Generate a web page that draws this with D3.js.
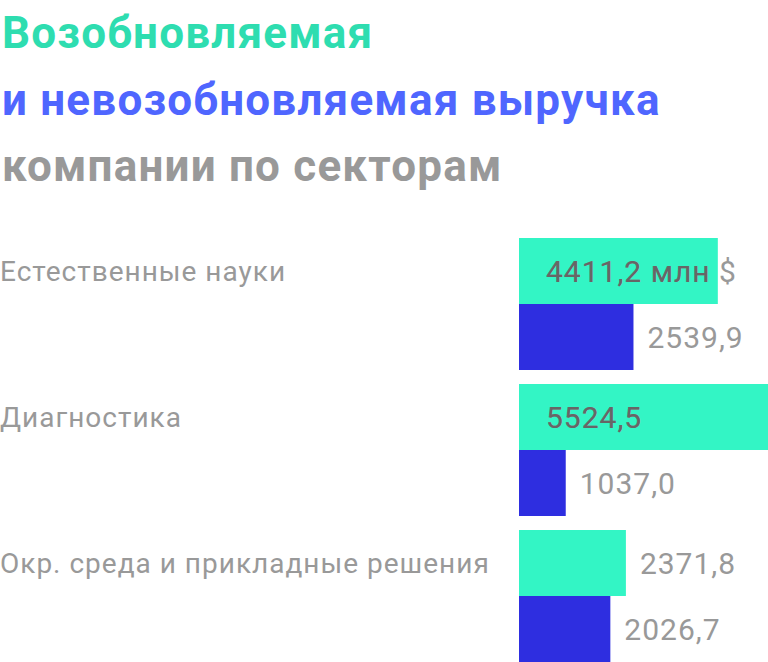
<!DOCTYPE html>
<html>
<head>
<meta charset="utf-8">
<script src="https://cdn.jsdelivr.net/npm/d3@7/dist/d3.min.js"></script>
<style>
  html, body { margin: 0; padding: 0; background: #fff; }
  svg { display: block; }
</style>
</head>
<body>
<svg id="chart" width="768" height="662"></svg>
<script>
const titleLines = ["Возобновляемая", "и невозобновляемая выручка", "компании по секторам"];
const categories = ["Естественные науки", "Диагностика", "Окр. среда и прикладные решения"];
const seriesNames = ["Возобновляемая", "Невозобновляемая"];
const renewable = [4411.2, 5524.5, 2371.8];
const nonRenewable = [2539.9, 1037.0, 2026.7];
const valueLabels = [["4411,2 млн $", "2539,9"], ["5524,5", "1037,0"], ["2371,8", "2026,7"]];

const titleColors = ["#2EDDB0", "#4F66FF", "#999999"];
const barColors = ["#33F5C5", "#2E2EE0"];

const svg = d3.select("#chart");
const W = 768, H = 662;
const x0 = 519;

svg.selectAll("text.title")
  .data(titleLines)
  .join("text")
  .attr("class", "title")
  .attr("x", 2)
  .attr("y", (d, i) => 48 + i * 66.5)
  .attr("fill", (d, i) => titleColors[i])
  .style("font-family", "Roboto, sans-serif")
  .style("font-weight", 700)
  .style("font-size", "44px")
  .style("letter-spacing", "1.2px")
  .text(d => d);

const groupY = d3.scaleBand().domain(categories).range([238, 676]).padding(0);
const inner = d3.scaleBand().domain(seriesNames).range([0, 132]);
const x = d3.scaleLinear().domain([0, 5524.5]).range([x0, W]);

const data = categories.map((c, i) => ({
  cat: c,
  vals: [
    { s: seriesNames[0], v: renewable[i], label: valueLabels[i][0] },
    { s: seriesNames[1], v: nonRenewable[i], label: valueLabels[i][1] }
  ]
}));

const g = svg.selectAll("g.group").data(data).join("g")
  .attr("class", "group")
  .attr("transform", d => `translate(0,${groupY(d.cat)})`);

g.append("text")
  .attr("x", 0)
  .attr("y", inner.bandwidth() / 2)
  .attr("dy", "0.36em")
  .attr("fill", "#999")
  .style("font-family", "Roboto, sans-serif")
  .style("font-size", "28px")
  .style("letter-spacing", "1px")
  .text(d => d.cat);

const defs = svg.append("defs");

g.each(function(d, gi) {
  const gg = d3.select(this);
  d.vals.forEach((v, si) => {
    const by = inner(v.s);
    const bw = x(v.v) - x0;
    gg.append("rect")
      .attr("x", x0).attr("y", by)
      .attr("width", bw).attr("height", inner.bandwidth())
      .attr("fill", barColors[si]);
    const inside = (x(v.v) + 14 + v.label.length * 16 > W);
    const tx = inside ? x0 + 27 : x(v.v) + 14;
    gg.append("text")
      .attr("x", tx).attr("y", by + inner.bandwidth() / 2)
      .attr("dy", "0.36em")
      .attr("fill", "#999")
      .style("font-family", "Roboto, sans-serif")
      .style("font-size", "30px")
      .style("letter-spacing", "1px")
      .text(v.label);
    if (inside) {
      const id = `clip-${gi}-${si}`;
      defs.append("clipPath").attr("id", id)
        .append("rect")
        .attr("x", x0).attr("y", groupY(d.cat) + by)
        .attr("width", bw).attr("height", inner.bandwidth());
      svg.append("text")
        .attr("clip-path", `url(#${id})`)
        .attr("x", tx).attr("y", groupY(d.cat) + by + inner.bandwidth() / 2)
        .attr("dy", "0.36em")
        .attr("fill", "#666")
        .style("font-family", "Roboto, sans-serif")
        .style("font-size", "30px")
        .style("letter-spacing", "1px")
        .text(v.label);
    }
  });
});
</script>
</body>
</html>
